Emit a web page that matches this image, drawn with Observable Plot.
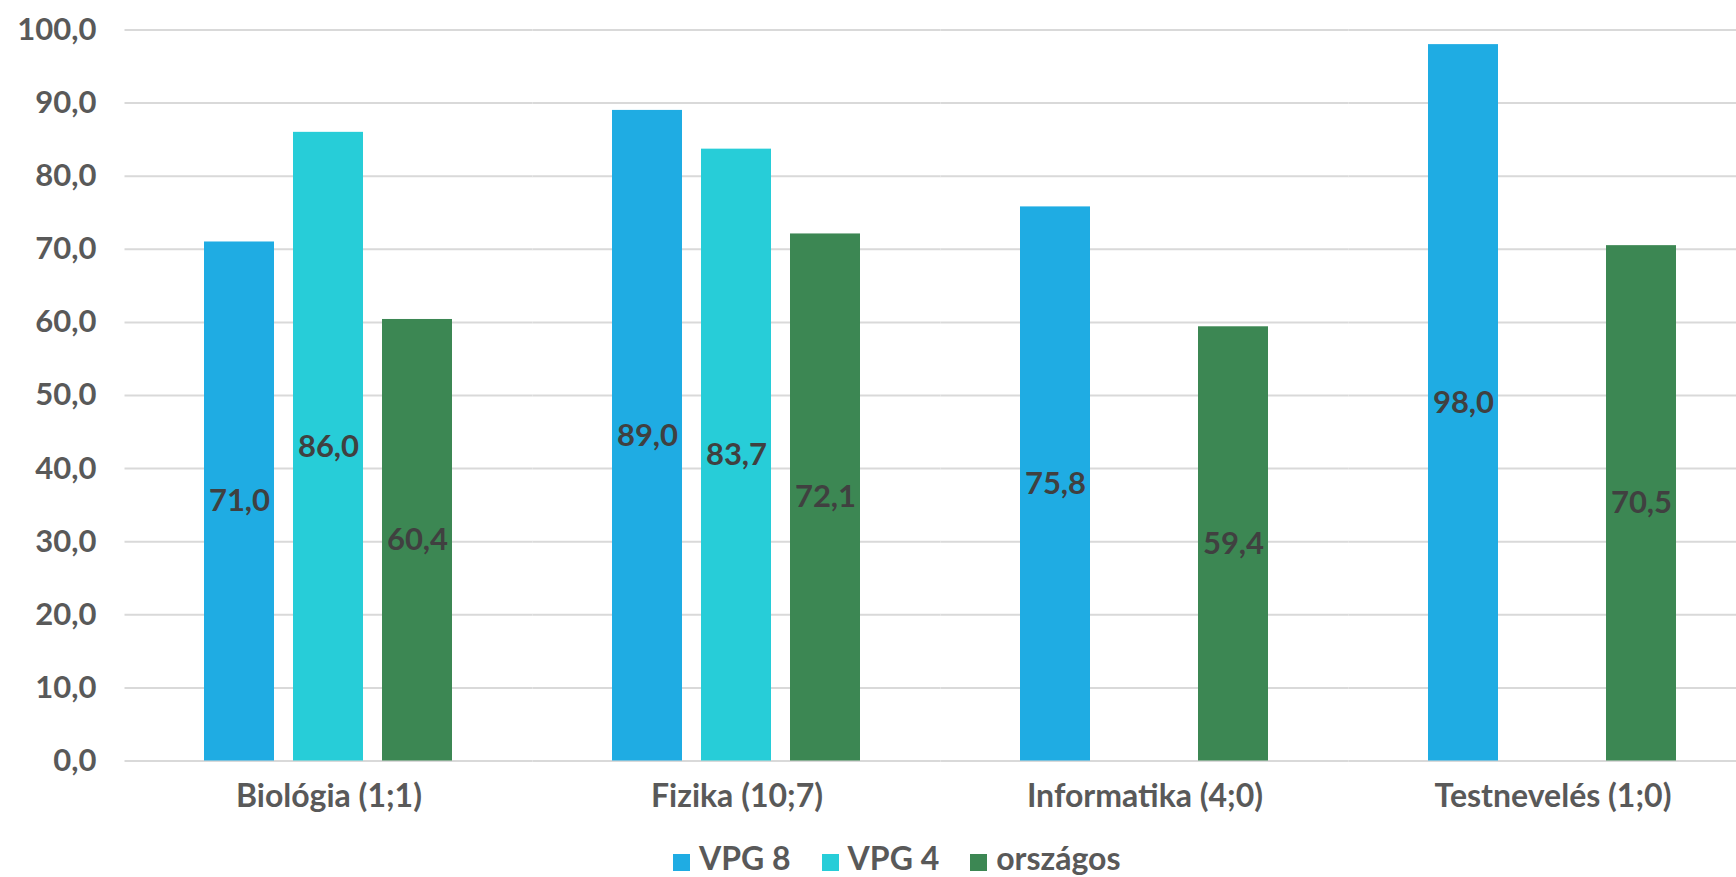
<!DOCTYPE html>
<html><head><meta charset="utf-8">
<script src="https://cdn.jsdelivr.net/npm/d3@7"></script>
<script src="https://cdn.jsdelivr.net/npm/@observablehq/plot@0.6"></script>
<style>
body{margin:0;background:#fff;font-family:Lato,"Open Sans",sans-serif;}
#wrap{position:relative;width:1736px;height:877px;overflow:hidden;}
#legend{position:absolute;left:673px;top:842px;display:flex;align-items:center;font:700 32px/32px Lato,sans-serif;color:#595959;white-space:nowrap;}
#legend .it{display:flex;align-items:center;margin-right:31px;}
#legend .sw{width:17px;height:17px;margin-right:9px;display:inline-block;position:relative;top:4px;}
</style></head>
<body><div id="wrap"><div id="chart"></div><div id="legend"></div></div>
<script>
const categories = ["Biológia (1;1)", "Fizika (10;7)", "Informatika (4;0)", "Testnevelés (1;0)"];
const seriesNames = ["VPG 8", "VPG 4", "országos"];
const vpg8 = [71.0, 89.0, 75.8, 98.0];
const vpg4 = [86.0, 83.7, null, null];
const orszagos = [60.4, 72.1, 59.4, 70.5];
const yTicks = [0, 10, 20, 30, 40, 50, 60, 70, 80, 90, 100];
const colors = ["#1FACE3", "#27CDD8", "#3C8753"];

const seriesValues = [vpg8, vpg4, orszagos];
const data = [];
categories.forEach((c, i) => seriesNames.forEach((s, j) => {
  const v = seriesValues[j][i];
  if (v != null) data.push({category: c, series: s, value: v});
}));
const fmt = v => v.toFixed(1).replace(".", ",");

const chart = Plot.plot({
  width: 1736,
  height: 830,
  marginLeft: 124,
  marginRight: -20,
  marginTop: 29.5,
  marginBottom: 69.5,
  style: {fontFamily: "Lato, sans-serif", fontSize: "31px", fontWeight: 700, color: "#595959", background: "#fff", overflow: "visible"},
  fx: {domain: categories, paddingInner: 0.385, paddingOuter: 0.1925, label: null},
  x: {domain: seriesNames, paddingInner: 0.211, paddingOuter: 0, axis: null},
  y: {domain: [0, 100], label: null},
  color: {domain: seriesNames, range: colors},
  marks: [
    Plot.ruleY(yTicks, {stroke: "#d9d9d9", strokeWidth: 2, insetLeft: -78.5, insetRight: -78.5}),
    Plot.axisY(yTicks, {tickFormat: fmt, tickSize: 0, tickPadding: 107, fontSize: 31, fontWeight: 700, label: null}),
    Plot.axisFx({anchor: "bottom", tickSize: 0, tickPadding: 23, fontSize: 32, fontWeight: 700, label: null}),
    Plot.barY(data, {fx: "category", x: "series", y: "value", fill: "series"}),
    Plot.text(data, {fx: "category", x: "series", y: d => d.value / 2, text: d => fmt(d.value), fill: "#404040", fontSize: 31, fontWeight: 700})
  ]
});
document.getElementById("chart").appendChild(chart);

const lg = document.getElementById("legend");
seriesNames.forEach((s, j) => {
  const it = document.createElement("span");
  it.className = "it";
  it.innerHTML = `<span class="sw" style="background:${colors[j]}"></span>${s}`;
  lg.appendChild(it);
});
</script></body></html>
